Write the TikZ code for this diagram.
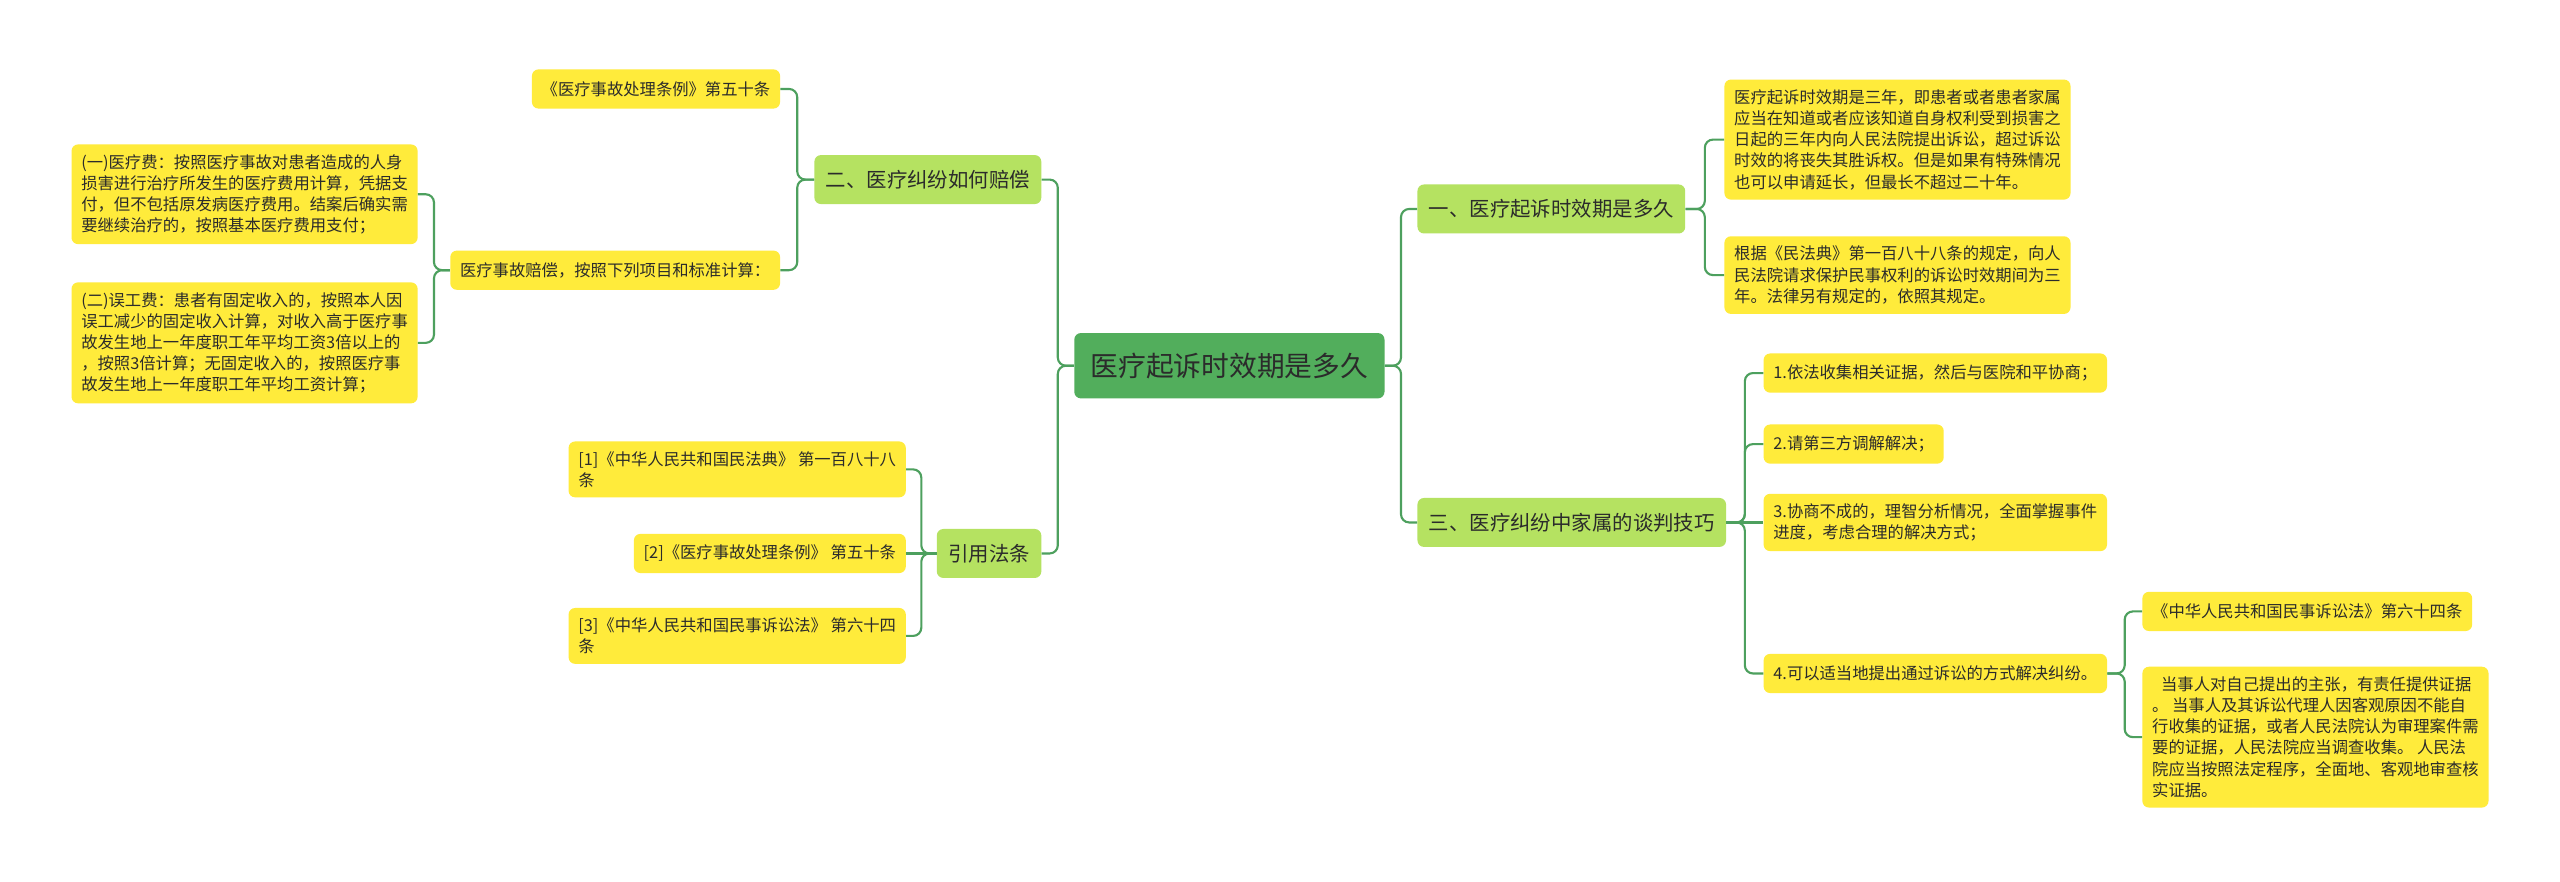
\documentclass[tikz,border=0pt]{standalone}
\usepackage{fontspec}
\newfontfamily\cjk{Noto Sans CJK SC}
\usetikzlibrary{calc}
\definecolor{rootc}{HTML}{52AE5C}
\definecolor{lvc}{HTML}{B5E261}
\definecolor{leafc}{HTML}{FFEB3B}
\definecolor{linec}{HTML}{4DA05E}
\definecolor{txt}{HTML}{2B2B2B}
\tikzset{
  rootbox/.style={fill=rootc, rounded corners=4pt, font=\cjk\fontsize{17}{20}\selectfont, text=txt, inner xsep=10pt, minimum height=40pt},
  lvbox/.style={fill=lvc, rounded corners=4pt, font=\cjk\fontsize{12.5}{15}\selectfont, text=txt, inner xsep=7pt, minimum height=30pt},
  leaf/.style={fill=leafc, rounded corners=4pt, font=\cjk\fontsize{10}{13}\selectfont, text=txt, inner xsep=6pt, inner ysep=6pt, minimum height=24pt, align=left},
  conn/.style={draw=linec, line width=1.3pt, rounded corners=5pt},
}
\begin{document}
\begin{tikzpicture}[x=1pt,y=-1pt]
\useasboundingbox[fill=white] (0,0) rectangle (1568,540);
% root
\node[rootbox] (root) at (753,224) {医疗起诉时效期是多久};
% level 1
\node[lvbox, anchor=east] (b2) at (638,110) {二、医疗纠纷如何赔偿};
\node[lvbox, anchor=east] (bref) at (638,339) {引用法条};
\node[lvbox, anchor=west] (b1) at (868,128) {一、医疗起诉时效期是多久};
\node[lvbox, anchor=west] (b3) at (868,320) {三、医疗纠纷中家属的谈判技巧};
% left leaves
\node[leaf, anchor=east] (l1) at (478,54.5) {《医疗事故处理条例》第五十条};
\node[leaf, anchor=east] (l2) at (478,165.5) {医疗事故赔偿，按照下列项目和标准计算：};
\node[leaf, anchor=east] (l3) at (256,119) {(一)医疗费：按照医疗事故对患者造成的人身\\损害进行治疗所发生的医疗费用计算，凭据支\\付，但不包括原发病医疗费用。结案后确实需\\要继续治疗的，按照基本医疗费用支付；};
\node[leaf, anchor=east] (l4) at (256,210) {(二)误工费：患者有固定收入的，按照本人因\\误工减少的固定收入计算，对收入高于医疗事\\故发生地上一年度职工年平均工资3倍以上的\\，按照3倍计算；无固定收入的，按照医疗事\\故发生地上一年度职工年平均工资计算；};
\node[leaf, anchor=east] (l5) at (555,287.5) {[1]《中华人民共和国民法典》 第一百八十八\\条};
\node[leaf, anchor=east] (l6) at (555,339) {[2]《医疗事故处理条例》 第五十条};
\node[leaf, anchor=east] (l7) at (555,389.5) {[3]《中华人民共和国民事诉讼法》 第六十四\\条};
% right leaves
\node[leaf, anchor=west] (r1) at (1056,85.5) {医疗起诉时效期是三年，即患者或者患者家属\\应当在知道或者应该知道自身权利受到损害之\\日起的三年内向人民法院提出诉讼，超过诉讼\\时效的将丧失其胜诉权。但是如果有特殊情况\\也可以申请延长，但最长不超过二十年。};
\node[leaf, anchor=west] (r2) at (1056,168.5) {根据《民法典》第一百八十八条的规定，向人\\民法院请求保护民事权利的诉讼时效期间为三\\年。法律另有规定的，依照其规定。};
\node[leaf, anchor=west] (r3) at (1080,228.5) {1.依法收集相关证据，然后与医院和平协商；};
\node[leaf, anchor=west] (r4) at (1080,272) {2.请第三方调解解决；};
\node[leaf, anchor=west] (r5) at (1080,320) {3.协商不成的，理智分析情况，全面掌握事件\\进度，考虑合理的解决方式；};
\node[leaf, anchor=west] (r6) at (1080,412.5) {4.可以适当地提出通过诉讼的方式解决纠纷。};
\node[leaf, anchor=west] (r7) at (1312,374.5) {《中华人民共和国民事诉讼法》第六十四条};
\node[leaf, anchor=west] (r8) at (1312,451.5) {\hspace*{0.55em}当事人对自己提出的主张，有责任提供证据\\。 当事人及其诉讼代理人因客观原因不能自\\行收集的证据，或者人民法院认为审理案件需\\要的证据，人民法院应当调查收集。 人民法\\院应当按照法定程序，全面地、客观地审查核\\实证据。};
% vertical trunk x positions
\coordinate (vL) at ($(root.west)!.5!(b2.east)$);
\coordinate (vR) at ($(root.east)!.5!(b1.west)$);
\coordinate (v2) at ($(b2.west)!.5!(l1.east)$);
\coordinate (vl2) at ($(l2.west)!.5!(l3.east)$);
\coordinate (vref) at ($(bref.west)!.5!(l5.east)$);
\coordinate (v1) at ($(b1.east)!.5!(r1.west)$);
\coordinate (v3) at ($(b3.east)!.5!(r3.west)$);
\coordinate (v6) at ($(r6.east)!.5!(r7.west)$);
% connectors
\draw[conn] (root.west) -- (root.west -| vL) |- (b2.east);
\draw[conn] (root.west) -- (root.west -| vL) |- (bref.east);
\draw[conn] (root.east) -- (root.east -| vR) |- (b1.west);
\draw[conn] (root.east) -- (root.east -| vR) |- (b3.west);
\draw[conn] (b2.west) -- (b2.west -| v2) |- (l1.east);
\draw[conn] (b2.west) -- (b2.west -| v2) |- (l2.east);
\draw[conn] (l2.west) -- (l2.west -| vl2) |- (l3.east);
\draw[conn] (l2.west) -- (l2.west -| vl2) |- (l4.east);
\draw[conn] (bref.west) -- (bref.west -| vref) |- (l5.east);
\draw[conn] (bref.west) -- (l6.east);
\draw[conn] (bref.west) -- (bref.west -| vref) |- (l7.east);
\draw[conn] (b1.east) -- (b1.east -| v1) |- (r1.west);
\draw[conn] (b1.east) -- (b1.east -| v1) |- (r2.west);
\draw[conn] (b3.east) -- (b3.east -| v3) |- (r3.west);
\draw[conn] (b3.east) -- (b3.east -| v3) |- (r4.west);
\draw[conn] (b3.east) -- (r5.west);
\draw[conn] (b3.east) -- (b3.east -| v3) |- (r6.west);
\draw[conn] (r6.east) -- (r6.east -| v6) |- (r7.west);
\draw[conn] (r6.east) -- (r6.east -| v6) |- (r8.west);
\end{tikzpicture}
\end{document}
